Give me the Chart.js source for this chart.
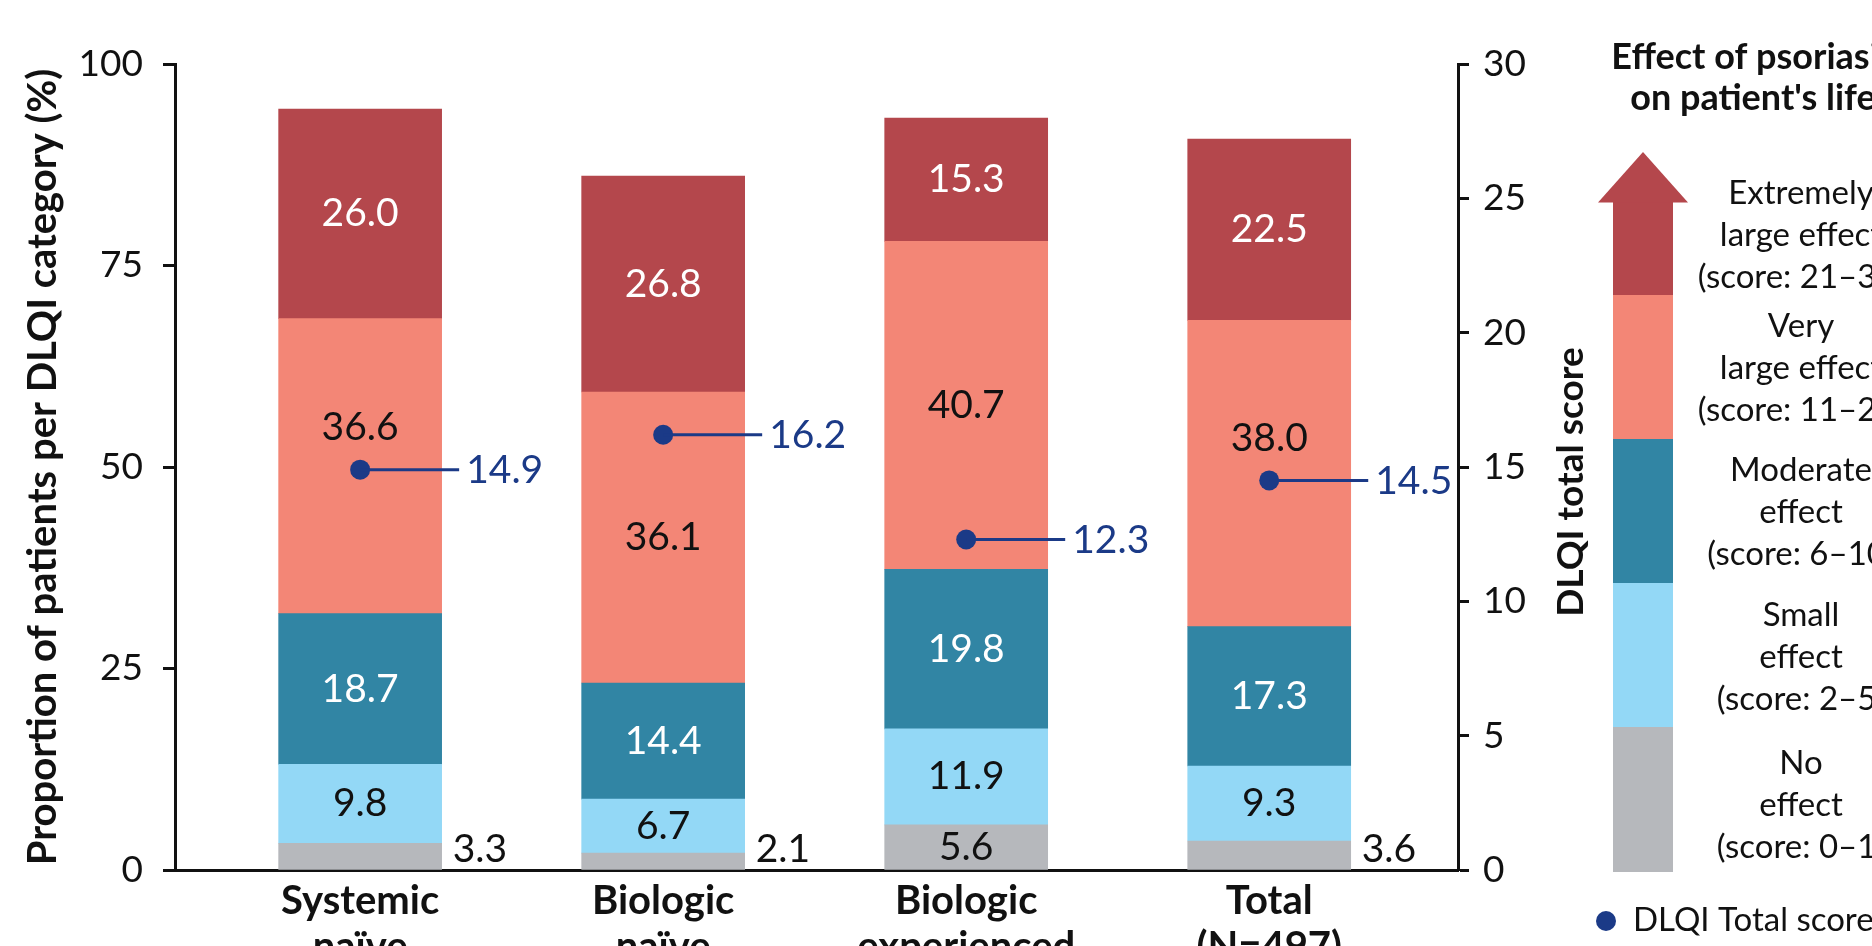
<!DOCTYPE html>
<html>
<head>
<meta charset="utf-8">
<script src="https://cdn.jsdelivr.net/npm/chart.js@4.4.1/dist/chart.umd.min.js"></script>
<style>
  html, body { margin: 0; padding: 0; background: #fff; overflow: hidden; }
  #wrap { width: 1872px; height: 946px; }
</style>
</head>
<body>
<div id="wrap"><canvas id="dlqi" width="1872" height="946"></canvas></div>
<script>
// Patient groups (x categories, two-line labels)
const categories = [['Systemic', 'naïve'], ['Biologic', 'naïve'], ['Biologic', 'experienced'], ['Total', '(N=497)']];

// Proportion of patients (%) per DLQI category, bottom segment first
const noEffect = [3.3, 2.1, 5.6, 3.6];
const smallEffect = [9.8, 6.7, 11.9, 9.3];
const moderateEffect = [18.7, 14.4, 19.8, 17.3];
const veryLargeEffect = [36.6, 36.1, 40.7, 38.0];
const extremelyLargeEffect = [26.0, 26.8, 15.3, 22.5];

// Mean DLQI total score per group (right axis)
const dlqiTotal = [14.9, 16.2, 12.3, 14.5];

// Axis ticks
const percentTicks = [0, 25, 50, 75, 100];
const scoreTicks = [0, 5, 10, 15, 20, 25, 30];

// Legend wording for each DLQI band
const bandNames = [
  ['No', 'effect', '(score: 0–1)'],
  ['Small', 'effect', '(score: 2–5)'],
  ['Moderate', 'effect', '(score: 6–10)'],
  ['Very', 'large effect', '(score: 11–20)'],
  ['Extremely', 'large effect', '(score: 21–30)']
];

const FONT = 'Lato, "Open Sans", "DejaVu Sans", sans-serif';
const INK = '#111111';
const NAVY = '#1b3a87';
const bandColors = ['#b6b8bc', '#93d8f6', '#3185a4', '#f38676', '#b4474c'];
const bandTextColors = [INK, INK, '#ffffff', INK, '#ffffff'];
const bandSeries = [noEffect, smallEffect, moderateEffect, veryLargeEffect, extremelyLargeEffect];

const toPoints = arr => arr.map((v, i) => ({ x: i, y: v }));

const datasets = [
  {
    type: 'line',
    label: 'DLQI Total score',
    data: toPoints(dlqiTotal),
    yAxisID: 'y2',
    showLine: false,
    pointRadius: 10,
    pointBackgroundColor: NAVY,
    pointBorderWidth: 0,
    order: -1
  }
].concat(bandSeries.map((arr, k) => ({
  type: 'bar',
  label: bandNames[k].join(' '),
  lines: bandNames[k],
  data: toPoints(arr),
  yAxisID: 'y',
  backgroundColor: bandColors[k],
  textColor: bandTextColors[k],
  borderWidth: 0,
  barThickness: 163
})));

// Segment values, DLQI mean connectors and their numbers
const valueLabels = {
  id: 'valueLabels',
  afterDatasetsDraw(chart) {
    const ctx = chart.ctx;
    const meanMeta = chart.getDatasetMeta(0);
    ctx.save();
    ctx.textBaseline = 'middle';
    ctx.font = `39px ${FONT}`;
    chart.data.datasets.forEach((ds, di) => {
      if (ds.type !== 'bar') return;
      const meta = chart.getDatasetMeta(di);
      meta.data.forEach((bar, i) => {
        const txt = ds.data[i].y.toFixed(1);
        const h = bar.base - bar.y;
        ctx.fillStyle = ds.textColor;
        if (h < 38) {
          // too thin: write the value beside the bar, on the baseline
          ctx.textAlign = 'left';
          ctx.fillText(txt, bar.x + bar.width / 2 + 11, bar.base - 20);
          return;
        }
        let y = (bar.y + bar.base) / 2;
        const pt = meanMeta.data[i];
        if (Math.abs(y - pt.y) < 36) y = pt.y - 42;
        ctx.textAlign = 'center';
        ctx.fillText(txt, bar.x, y);
      });
    });
    // mean markers: connector and value
    ctx.strokeStyle = NAVY;
    ctx.fillStyle = NAVY;
    ctx.lineWidth = 3;
    ctx.font = `39px ${FONT}`;
    ctx.textAlign = 'left';
    meanMeta.data.forEach((pt, i) => {
      ctx.beginPath();
      ctx.moveTo(pt.x, pt.y);
      ctx.lineTo(pt.x + 99, pt.y);
      ctx.stroke();
      ctx.fillText(dlqiTotal[i].toFixed(1), pt.x + 106, pt.y + 1);
    });
    ctx.restore();
  }
};

// Right axis title and the arrow legend of DLQI bands
const bandLegend = {
  id: 'bandLegend',
  afterDraw(chart) {
    const ctx = chart.ctx;
    const ys = chart.scales.y2;
    ctx.save();
    // right axis title, reading bottom to top
    ctx.fillStyle = INK;
    ctx.font = `bold 37px ${FONT}`;
    ctx.textAlign = 'center';
    ctx.textBaseline = 'middle';
    ctx.translate(ys.left + 113, 482);
    ctx.rotate(-Math.PI / 2);
    ctx.fillText('DLQI total score', 0, 0);
    ctx.restore();

    ctx.save();
    ctx.fillStyle = INK;
    ctx.textAlign = 'center';
    ctx.textBaseline = 'middle';
    ctx.font = `bold 36px ${FONT}`;
    ctx.fillText('Effect of psoriasis', 1753, 57);
    ctx.fillText("on patient's life", 1753, 98);

    const barLeft = 1613, barRight = 1673;
    const edges = [872, 727, 583, 439, 295, 202];
    const labelCentres = [805, 657, 512, 368, 235];
    const bars = chart.data.datasets.filter(d => d.type === 'bar');
    bars.forEach((ds, k) => {
      ctx.fillStyle = ds.backgroundColor;
      ctx.fillRect(barLeft, edges[k + 1], barRight - barLeft, edges[k] - edges[k + 1]);
      ctx.fillStyle = INK;
      ctx.font = `33px ${FONT}`;
      ds.lines.forEach((line, j) => {
        ctx.fillText(line, 1801, labelCentres[k] + (j - 1) * 42);
      });
    });
    // arrow head on the top band
    ctx.fillStyle = bars[bars.length - 1].backgroundColor;
    ctx.beginPath();
    ctx.moveTo(1598, 202.5);
    ctx.lineTo(1643, 152);
    ctx.lineTo(1688, 202.5);
    ctx.closePath();
    ctx.fill();

    // marker key
    const mean = chart.data.datasets[0];
    ctx.fillStyle = mean.pointBackgroundColor;
    ctx.beginPath();
    ctx.arc(1606, 921, 10, 0, Math.PI * 2);
    ctx.fill();
    ctx.fillStyle = INK;
    ctx.textAlign = 'left';
    ctx.font = `33px ${FONT}`;
    ctx.fillText(mean.label, 1633, 920);
    ctx.restore();
  }
};

const axisLine = { display: true, width: 3, color: INK };

new Chart(document.getElementById('dlqi'), {
  data: { datasets },
  options: {
    responsive: false,
    animation: false,
    layout: { padding: { top: 64, left: 0, right: 0, bottom: 0 } },
    plugins: { legend: { display: false }, tooltip: { enabled: false } },
    scales: {
      x: {
        type: 'linear',
        offset: false,
        min: -0.611,
        max: 3.623,
        stacked: true,
        afterBuildTicks: s => { s.ticks = categories.map((_, i) => ({ value: i })); },
        afterFit: s => { s.height = 76; },
        grid: { drawOnChartArea: false, drawTicks: false },
        border: axisLine,
        ticks: {
          callback: v => categories[v],
          autoSkip: false,
          maxRotation: 0,
          padding: 8,
          color: INK,
          font: { family: FONT, size: 40, weight: 'bold', lineHeight: 1.15 }
        }
      },
      y: {
        position: 'left',
        min: 0,
        max: 100,
        stacked: true,
        afterBuildTicks: s => { s.ticks = percentTicks.map(v => ({ value: v })); },
        afterFit: s => { s.width = 175; },
        grid: { drawOnChartArea: false, drawTicks: true, tickLength: 12, tickWidth: 3, tickColor: INK },
        border: axisLine,
        ticks: { padding: 20, color: INK, font: { family: FONT, size: 37 } },
        title: {
          display: true,
          text: 'Proportion of patients per DLQI category (%)',
          color: INK,
          padding: { top: 19, bottom: 0 },
          font: { family: FONT, size: 40, weight: 'bold', lineHeight: 1.2 }
        }
      },
      y2: {
        position: 'right',
        min: 0,
        max: 30,
        afterBuildTicks: s => { s.ticks = scoreTicks.map(v => ({ value: v })); },
        afterFit: s => { s.width = 414; },
        grid: { drawOnChartArea: false, drawTicks: true, tickLength: 11, tickWidth: 3, tickColor: INK },
        border: axisLine,
        ticks: { padding: 14, color: INK, font: { family: FONT, size: 37 } }
      }
    }
  },
  plugins: [valueLabels, bandLegend]
});
</script>
</body>
</html>
